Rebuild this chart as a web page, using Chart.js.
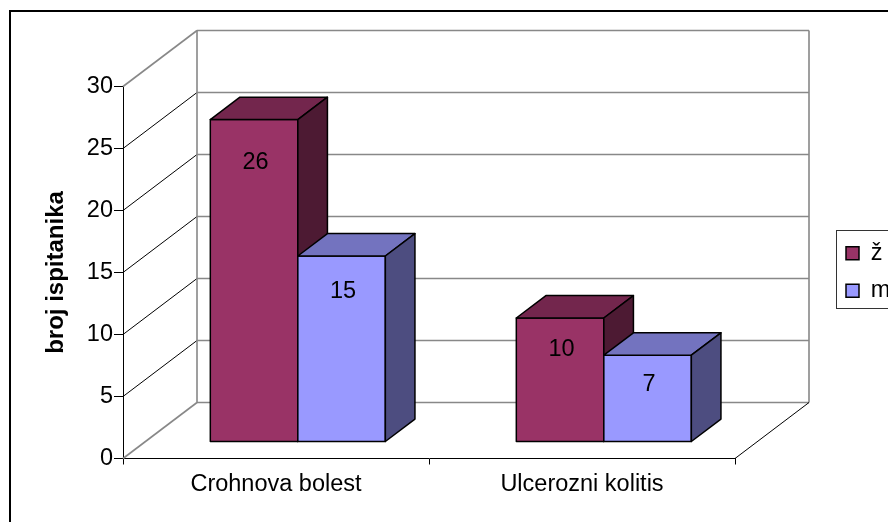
<!DOCTYPE html>
<html>
<head>
<meta charset="utf-8">
<script src="https://cdn.jsdelivr.net/npm/chart.js@4.4.1/dist/chart.umd.min.js"></script>
<style>
  html, body { margin: 0; padding: 0; background: #ffffff; }
  #wrap { width: 888px; height: 522px; position: relative; }
</style>
</head>
<body>
<div id="wrap"><canvas id="c" width="888" height="522"></canvas></div>
<script>
// ---- data ----
const categories = ['Crohnova bolest', 'Ulcerozni kolitis'];
const seriesNames = ['ž', 'm'];
const valuesZ = [26, 10];
const valuesM = [15, 7];
const yMin = 0, yMax = 30, yStep = 5;
const yTitle = 'broj ispitanika';

// ---- styles ----
const FONT = '"Liberation Sans", Arial, sans-serif';
const frontColors = ['#993366', '#9999FF'];
const topColors   = ['#73264D', '#7373BF'];
const sideColors  = ['#4D1A33', '#4D4D80'];
const DEPTH = { dx: 74, dy: -56 };   // 3D depth of the plot box
const BAR_FRONT = 0.295;             // bar front plane, fraction of depth
const BAR_DEPTH = 0.40;              // bar depth, fraction of depth
const WALL = '#888888';

const plugin3d = {
  id: 'excel3d',
  afterLayout(chart) {
    const lg = chart.legend;
    if (lg) {
      lg.left = 832; lg.top = 227.5;
      lg.right = chart.width; lg.bottom = lg.top + 110;
      lg.width = lg.right - lg.left; lg.height = 110;
    }
  },
  beforeDatasetsDraw(chart) {
    const { ctx, chartArea: a, scales } = chart;
    const ys = scales.y;
    const dx = DEPTH.dx, dy = DEPTH.dy;
    ctx.save();
    const ticks = ys.ticks.map(t => t.value);
    ticks.forEach(v => {
      const py = ys.getPixelForValue(v);
      const edge = (v === yMin || v === yMax);
      ctx.beginPath();
      ctx.strokeStyle = edge ? WALL : '#000000';
      ctx.lineWidth = edge ? 1.6 : 1;
      ctx.moveTo(a.left, py); ctx.lineTo(a.left + dx, py + dy);
      ctx.stroke();
      ctx.beginPath();
      ctx.strokeStyle = WALL; ctx.lineWidth = 1.6;
      ctx.moveTo(a.left + dx, py + dy); ctx.lineTo(a.right + dx, py + dy);
      ctx.stroke();
    });
    ctx.beginPath();
    ctx.strokeStyle = WALL; ctx.lineWidth = 1.6;
    ctx.moveTo(a.left + dx, a.top + dy); ctx.lineTo(a.left + dx, a.bottom + dy);
    ctx.moveTo(a.right + dx, a.top + dy); ctx.lineTo(a.right + dx, a.bottom + dy);
    ctx.stroke();
    ctx.beginPath();
    ctx.strokeStyle = '#000000'; ctx.lineWidth = 1;
    ctx.moveTo(a.right, a.bottom); ctx.lineTo(a.right + dx, a.bottom + dy);
    ctx.stroke();

    const fx = dx * BAR_FRONT, fy = dy * BAR_FRONT;
    const ox = dx * BAR_DEPTH, oy = dy * BAR_DEPTH;
    const labels = [];
    const n = chart.data.labels.length;
    for (let i = 0; i < n; i++) {
      chart.data.datasets.forEach((ds, di) => {
        const meta = chart.getDatasetMeta(di);
        const el = meta.data[i];
        if (!el) return;
        const p = el.getProps(['x', 'y', 'base', 'width'], true);
        const x0 = p.x - p.width / 2 + fx, x1 = p.x + p.width / 2 + fx;
        const yT = p.y + fy, yB = p.base + fy;
        ctx.lineWidth = 1.5; ctx.strokeStyle = '#000000'; ctx.lineJoin = 'round';
        ctx.beginPath(); ctx.rect(x0, yT, x1 - x0, yB - yT);
        ctx.fillStyle = frontColors[di]; ctx.fill(); ctx.stroke();
        ctx.beginPath();
        ctx.moveTo(x0, yT); ctx.lineTo(x0 + ox, yT + oy); ctx.lineTo(x1 + ox, yT + oy); ctx.lineTo(x1, yT); ctx.closePath();
        ctx.fillStyle = topColors[di]; ctx.fill(); ctx.stroke();
        ctx.beginPath();
        ctx.moveTo(x1, yT); ctx.lineTo(x1 + ox, yT + oy); ctx.lineTo(x1 + ox, yB + oy); ctx.lineTo(x1, yB); ctx.closePath();
        ctx.fillStyle = sideColors[di]; ctx.fill(); ctx.stroke();
        labels.push({ text: String(ds.data[i]), x: (x0 + x1) / 2 + 1.5, y: yT + 25 + 0.055 * (yB - yT) });
      });
    }
    ctx.fillStyle = '#000000';
    ctx.font = '23.5px ' + FONT;
    ctx.textAlign = 'center'; ctx.textBaseline = 'middle';
    labels.forEach(l => ctx.fillText(l.text, l.x, l.y));
    ctx.restore();
    return false;
  },
  afterDraw(chart) {
    const ctx = chart.ctx;
    ctx.save();
    ctx.strokeStyle = '#000000';
    ctx.lineWidth = 2;
    ctx.strokeRect(10, 11, 900, 600);
    ctx.lineWidth = 1;
    ctx.strokeStyle = '#333333';
    ctx.strokeRect(836.5, 230.5, 100, 78);
    ctx.restore();
  }
};

new Chart(document.getElementById('c'), {
  type: 'bar',
  data: {
    labels: categories,
    datasets: [
      { label: seriesNames[0], data: valuesZ, backgroundColor: frontColors[0], borderColor: '#000000', borderWidth: 1.5 },
      { label: seriesNames[1], data: valuesM, backgroundColor: frontColors[1], borderColor: '#000000', borderWidth: 1.5 }
    ]
  },
  options: {
    responsive: false,
    animation: false,
    events: [],
    layout: { padding: { left: 0, top: 86.5, right: 153, bottom: 0 } },
    datasets: { bar: { categoryPercentage: 0.572, barPercentage: 1 } },
    plugins: {
      tooltip: { enabled: false },
      legend: {
        display: true,
        position: 'chartArea',
        align: 'start',
        labels: {
          boxWidth: 13, boxHeight: 13, padding: 14,
          color: '#000000',
          font: { family: FONT, size: 23.5 }
        }
      }
    },
    scales: {
      x: {
        offset: true,
        grid: { display: true, offset: true, drawOnChartArea: false, drawTicks: true, tickLength: 6, color: '#000000', lineWidth: 1 },
        border: { display: true, color: '#000000', width: 1 },
        ticks: { color: '#000000', font: { family: FONT, size: 23.5 }, padding: 6, maxRotation: 0 },
        afterFit(s) { s.height = 63.5; }
      },
      y: {
        min: yMin, max: yMax,
        grid: { display: true, drawOnChartArea: false, drawTicks: true, tickLength: 9, color: '#000000', lineWidth: 1 },
        border: { display: true, color: '#000000', width: 1 },
        ticks: { stepSize: yStep, color: '#000000', font: { family: FONT, size: 23.5 }, padding: 1 },
        title: { display: true, text: yTitle, color: '#000000', font: { family: FONT, size: 24, weight: 'bold' }, padding: { top: 42, bottom: 0 } },
        afterFit(s) { s.width = 123; }
      }
    }
  },
  plugins: [plugin3d]
});
</script>
</body>
</html>
